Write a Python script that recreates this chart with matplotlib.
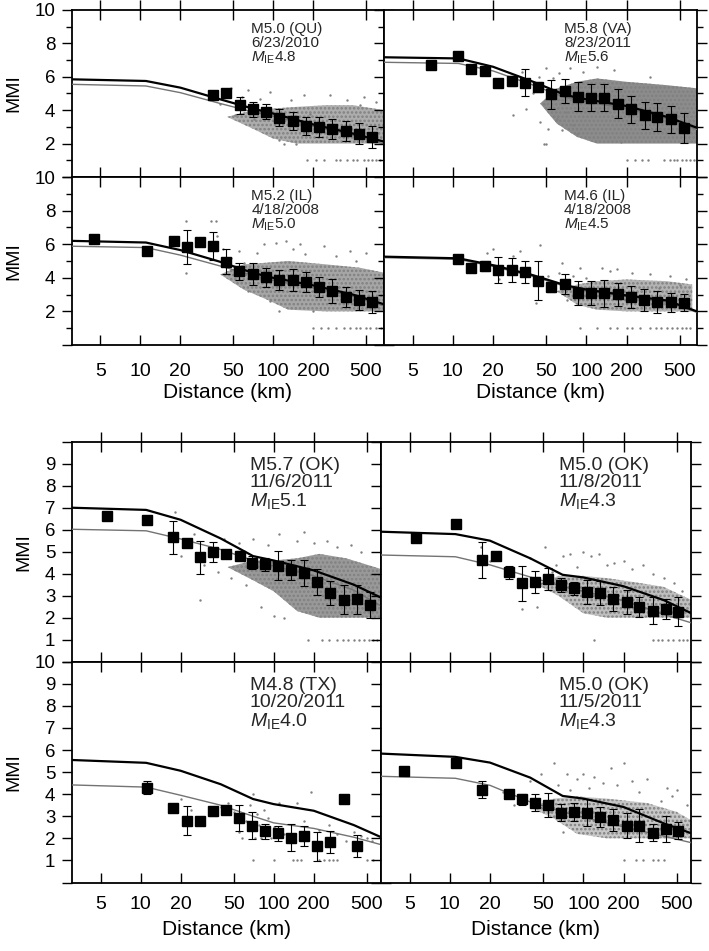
import numpy as np
import matplotlib.pyplot as plt
from matplotlib.ticker import NullLocator

plt.rcParams['font.family'] = ['Liberation Sans', 'DejaVu Sans']
plt.rcParams['mathtext.fontset'] = 'custom'
plt.rcParams['mathtext.rm'] = 'Liberation Sans'
plt.rcParams['mathtext.it'] = 'Liberation Sans:italic'
plt.rcParams['hatch.linewidth'] = 1.2

# distances (km) where the two model curves are read
line_d = [3, 11, 20, 40, 70, 100, 200, 400, 700]
xtick_vals = [5, 10, 20, 50, 100, 200, 500]

# ---- M5.0 (QU) 6/23/2010 ----
qu_label = 'M5.0 (QU)\n6/23/2010\n$M_{\\mathrm{IE}}$4.8'
qu_d = [35, 44, 56, 70, 88, 111, 140, 176, 222, 280, 352, 443, 558]
qu_m = [4.9, 5.05, 4.3, 4.05, 3.9, 3.55, 3.35, 3.05, 3.0, 2.9, 2.75, 2.6, 2.4]
qu_e = [0.15, 0.15, 0.5, 0.45, 0.45, 0.5, 0.55, 0.55, 0.6, 0.6, 0.6, 0.65, 0.65]
qu_black = [5.85, 5.75, 5.35, 4.65, 4.1, 3.8, 3.15, 2.6, 2.1]
qu_gray = [5.55, 5.45, 5.05, 4.4, 3.9, 3.65, 3.05, 2.5, 1.95]
qu_band_d = [45, 70, 100, 150, 250, 400, 690]
qu_band_lo = [3.6, 2.9, 2.3, 2.0, 2.0, 2.0, 2.0]
qu_band_hi = [3.6, 4.0, 4.1, 4.2, 4.3, 4.3, 4.0]
qu_pts_d = [40, 48, 52, 58, 65, 72, 80, 95, 110, 120, 137, 150, 170, 190, 270, 360, 450, 480, 600]
qu_pts_m = [4.4, 5.3, 3.7, 4.8, 5.2, 3.5, 4.7, 5.1, 2.2, 2.0, 4.6, 2.0, 4.9, 3.8, 4.9, 4.6, 4.3, 4.8, 4.5]
qu_ones = [180, 210, 240, 300, 320, 360, 400, 430, 480, 520, 560, 600, 640]

# ---- M5.8 (VA) 8/23/2011 ----
va_label = 'M5.8 (VA)\n8/23/2011\n$M_{\\mathrm{IE}}$5.6'
va_d = [6.9, 10.9, 13.7, 17.3, 21.7, 27.5, 34.5, 43.5, 54.7, 69, 87, 108, 136, 172, 217, 273, 340, 429, 540]
va_m = [6.71, 7.25, 6.45, 6.37, 5.61, 5.75, 5.65, 5.37, 4.95, 5.15, 4.81, 4.75, 4.75, 4.39, 4.06, 3.70, 3.58, 3.46, 2.92]
va_e = [0.1, 0.1, 0.1, 0.15, 0.1, 0.3, 0.8, 0.3, 0.85, 0.7, 0.85, 0.8, 0.8, 0.85, 0.8, 0.8, 0.85, 0.8, 0.9]
va_black = [7.17, 7.1, 6.6, 5.7, 4.9, 4.65, 4.25, 3.6, 2.9]
va_gray = [6.87, 6.8, 6.35, 5.5, 4.75, 4.5, 4.1, 3.5, 2.8]
va_band_d = [45, 60, 85, 120, 200, 400, 690]
va_band_lo = [4.4, 3.2, 2.4, 2.0, 2.0, 2.0, 2.0]
va_band_hi = [4.4, 5.3, 5.7, 5.9, 5.7, 5.5, 5.3]
va_pts_d = [28, 33, 35, 40, 44, 45, 48, 50, 52, 56, 60, 62, 66, 70, 75, 80, 85, 95, 120, 160, 180, 300, 48, 50]
va_pts_m = [3.7, 6.3, 4.1, 5.0, 6.0, 3.3, 4.4, 6.5, 2.9, 5.9, 3.5, 6.2, 2.8, 3.9, 6.5, 3.1, 2.6, 6.3, 6.6, 6.4, 2.1, 6.0, 2.0, 2.0]
va_ones = [200, 230, 260, 290, 380, 420, 450, 480, 520, 560, 600, 640]

# ---- M5.2 (IL) 4/18/2008 ----
il52_label = 'M5.2 (IL)\n4/18/2008\n$M_{\\mathrm{IE}}$5.0'
il52_d = [4.5, 11.2, 17.8, 22.5, 28.3, 35.3, 44.4, 55.7, 70, 88, 111, 140, 176, 222, 280, 352, 443, 558]
il52_m = [6.31, 5.60, 6.19, 5.82, 6.15, 5.89, 4.96, 4.38, 4.24, 4.03, 3.85, 3.87, 3.75, 3.47, 3.20, 2.84, 2.66, 2.58]
il52_e = [0.1, 0.1, 0.2, 1.0, 0.15, 0.85, 0.75, 0.5, 0.65, 0.55, 0.6, 0.65, 0.6, 0.6, 0.7, 0.6, 0.6, 0.65]
il52_black = [6.2, 6.1, 5.65, 4.95, 4.3, 4.0, 3.55, 3.0, 2.4]
il52_gray = [5.88, 5.8, 5.35, 4.7, 4.15, 3.85, 3.4, 2.9, 2.3]
il52_band_d = [40, 60, 90, 130, 250, 450, 690]
il52_band_lo = [4.2, 3.3, 2.7, 2.1, 2.0, 2.0, 2.0]
il52_band_hi = [4.2, 4.8, 4.9, 5.0, 4.8, 4.6, 4.3]
il52_pts_d = [22, 34, 37, 38, 42, 48, 55, 60, 65, 75, 85, 95, 105, 110, 125, 140, 160, 175, 200, 240, 300, 380, 420, 500, 22]
il52_pts_m = [4.3, 7.4, 7.4, 6.5, 5.7, 5.2, 5.6, 4.9, 3.2, 5.5, 6.0, 2.6, 6.1, 2.0, 6.2, 5.7, 6.0, 5.4, 2.0, 5.9, 5.3, 5.6, 5.0, 5.5, 7.4]
il52_ones = [200, 230, 260, 300, 340, 380, 420, 450, 500, 540, 600, 650]

# ---- M4.6 (IL) 4/18/2008 ----
il46_label = 'M4.6 (IL)\n4/18/2008\n$M_{\\mathrm{IE}}$4.5'
il46_d = [10.9, 13.6, 17.3, 21.7, 27.5, 34.5, 43.5, 54.7, 69, 87, 108, 136, 172, 216, 272, 340, 429, 540]
il46_m = [5.10, 4.60, 4.72, 4.46, 4.46, 4.36, 3.83, 3.47, 3.61, 3.11, 3.11, 3.08, 3.02, 2.88, 2.68, 2.58, 2.54, 2.52]
il46_e = [0.1, 0.1, 0.3, 0.75, 0.7, 0.65, 1.15, 0.3, 0.6, 0.7, 0.7, 0.8, 0.7, 0.65, 0.65, 0.65, 0.55, 0.5]
il46_black = [5.26, 5.16, 4.75, 4.15, 3.55, 3.3, 2.95, 2.65, 1.95]
il46_gray = [5.2, 5.1, 4.68, 4.08, 3.48, 3.22, 2.88, 2.55, 1.9]
il46_band_d = [60, 85, 120, 200, 400, 620]
il46_band_lo = [3.2, 2.4, 2.1, 2.0, 2.0, 2.0]
il46_band_hi = [3.2, 3.6, 3.8, 3.9, 3.8, 3.6]
il46_pts_d = [18, 20, 22, 28, 32, 38, 42, 45, 52, 58, 62, 66, 72, 80, 90, 100, 130, 150, 170, 220, 300, 350, 420, 500, 560]
il46_pts_m = [5.5, 5.7, 3.9, 5.3, 5.6, 4.2, 2.5, 5.95, 4.1, 3.4, 4.3, 4.9, 2.7, 4.1, 4.6, 4.0, 4.6, 4.4, 4.5, 4.3, 4.2, 3.4, 4.1, 3.6, 3.9]
il46_ones = [90, 120, 150, 170, 200, 220, 250, 300, 330, 360, 400, 440, 480, 520, 560, 600]

# ---- M5.7 (OK) 11/6/2011 ----
ok57_label = 'M5.7 (OK)\n11/6/2011\n$M_{\\mathrm{IE}}$5.1'
ok57_d = [5.6, 11.1, 17.6, 22.2, 27.9, 34.8, 43.8, 55.5, 68.3, 86, 107, 134, 168, 212, 266, 336, 421, 527]
ok57_m = [6.62, 6.44, 5.65, 5.41, 4.75, 5.00, 4.90, 4.81, 4.50, 4.43, 4.36, 4.17, 4.02, 3.61, 3.11, 2.82, 2.84, 2.58]
ok57_e = [0.1, 0.1, 0.75, 0.1, 0.75, 0.45, 0.2, 0.2, 0.3, 0.3, 0.65, 0.45, 0.6, 0.6, 0.55, 0.65, 0.65, 0.6]
ok57_black = [7.0, 6.9, 6.45, 5.6, 4.8, 4.6, 4.15, 3.5, 2.8]
ok57_gray = [6.02, 5.95, 5.58, 5.1, 4.6, 4.35, 3.9, 3.25, 2.4]
ok57_band_d = [45, 70, 100, 150, 220, 350, 650]
ok57_band_lo = [4.3, 3.7, 3.2, 2.3, 2.0, 2.0, 2.0]
ok57_band_hi = [4.3, 4.6, 4.6, 4.7, 4.9, 4.7, 4.2]
ok57_pts_d = [18, 20, 22, 25, 28, 30, 33, 38, 42, 48, 55, 62, 70, 80, 90, 100, 110, 120, 150, 170, 200, 250, 300, 380, 450]
ok57_pts_m = [6.8, 4.8, 5.5, 5.8, 2.8, 4.4, 5.2, 4.1, 5.6, 3.8, 5.4, 3.5, 5.6, 2.5, 5.3, 2.1, 5.8, 2.0, 5.5, 5.9, 5.4, 5.5, 5.2, 5.3, 5.0]
ok57_ones = [180, 230, 260, 300, 330, 360, 400, 440, 480, 520, 560, 600]

# ---- M5.0 (OK) 11/8/2011 ----
ok8_label = 'M5.0 (OK)\n11/8/2011\n$M_{\\mathrm{IE}}$4.3'
ok8_d = [5.6, 11.2, 17.5, 22.1, 27.6, 34.8, 43.3, 54.5, 67.9, 85, 106, 133, 167, 211, 262, 331, 414, 515]
ok8_m = [5.61, 6.25, 4.62, 4.80, 4.06, 3.56, 3.61, 3.76, 3.49, 3.34, 3.18, 3.14, 2.84, 2.73, 2.47, 2.32, 2.38, 2.27]
ok8_e = [0.1, 0.1, 0.8, 0.1, 0.3, 0.8, 0.5, 0.5, 0.3, 0.3, 0.55, 0.55, 0.55, 0.55, 0.45, 0.6, 0.45, 0.65]
ok8_black = [5.91, 5.8, 5.5, 4.7, 3.95, 3.83, 3.43, 2.8, 2.1]
ok8_gray = [4.85, 4.77, 4.4, 3.85, 3.42, 3.2, 2.78, 2.15, 1.7]
ok8_band_d = [45, 65, 100, 150, 250, 400, 650]
ok8_band_lo = [3.5, 3.0, 2.2, 2.0, 2.0, 2.0, 2.0]
ok8_band_hi = [3.5, 3.9, 3.9, 3.8, 3.6, 3.4, 2.8]
ok8_pts_d = [17, 20, 28, 35, 40, 45, 52, 58, 62, 70, 80, 90, 100, 115, 130, 150, 170, 200, 230, 280, 330, 400, 480, 550]
ok8_pts_m = [5.2, 4.6, 4.0, 2.4, 4.7, 2.5, 5.2, 4.1, 4.4, 4.8, 4.9, 4.3, 5.0, 4.8, 4.9, 4.4, 4.5, 4.6, 4.2, 4.4, 4.0, 3.8, 3.6, 3.2]
ok8_ones = [120, 330, 360, 390, 430, 470, 520, 560, 600]

# ---- M4.8 (TX) 10/20/2011 ----
tx_label = 'M4.8 (TX)\n10/20/2011\n$M_{\\mathrm{IE}}$4.0'
tx_d = [11.1, 17.6, 22.2, 27.9, 34.9, 44.0, 54.9, 68.6, 86.2, 107, 134, 169, 212, 267, 336, 421]
tx_m = [4.29, 3.38, 2.80, 2.80, 3.23, 3.28, 2.91, 2.58, 2.31, 2.22, 2.03, 2.12, 1.64, 1.82, 3.78, 1.67]
tx_e = [0.3, 0.1, 0.67, 0.1, 0.2, 0.1, 0.6, 0.6, 0.35, 0.35, 0.6, 0.45, 0.65, 0.5, 0.1, 0.5]
tx_black = [5.55, 5.42, 5.06, 4.45, 3.78, 3.55, 3.25, 2.6, 1.95]
tx_gray = [4.42, 4.32, 3.95, 3.5, 3.0, 2.7, 2.45, 2.05, 1.65]
tx_pts_d = [20, 24, 30, 35, 40, 45, 50, 55, 58, 62, 66, 70, 72, 75, 78, 80, 85, 90, 95, 100, 110, 120, 130, 150, 170, 190, 220, 260, 300, 350, 400, 450, 500, 550]
tx_pts_m = [3.8, 3.3, 2.9, 3.1, 3.4, 3.6, 3.2, 2.3, 2.0, 2.8, 3.5, 4.0, 2.0, 3.1, 2.6, 2.0, 3.3, 2.9, 2.0, 2.5, 3.6, 2.2, 2.0, 3.6, 2.8, 4.1, 2.4, 2.6, 2.2, 1.9, 2.3, 2.1, 2.0, 1.9]
tx_ones = [70, 100, 140, 150, 160, 220, 240, 260, 280, 300, 500, 560]

# ---- M5.0 (OK) 11/5/2011 ----
ok5_label = 'M5.0 (OK)\n11/5/2011\n$M_{\\mathrm{IE}}$4.3'
ok5_d = [4.5, 11.2, 17.5, 27.6, 34.8, 43.3, 54.5, 67.9, 85, 106, 133, 167, 211, 262, 331, 414, 515]
ok5_m = [5.03, 5.43, 4.21, 4.02, 3.77, 3.62, 3.50, 3.17, 3.20, 3.17, 2.98, 2.83, 2.58, 2.58, 2.26, 2.43, 2.35]
ok5_e = [0.1, 0.1, 0.37, 0.1, 0.25, 0.4, 0.55, 0.4, 0.4, 0.6, 0.45, 0.5, 0.55, 0.75, 0.4, 0.6, 0.4]
ok5_black = [5.84, 5.69, 5.43, 4.75, 3.92, 3.8, 3.42, 2.68, 2.15]
ok5_gray = [4.81, 4.72, 4.4, 3.65, 3.2, 2.95, 2.52, 2.1, 1.75]
ok5_band_d = [40, 60, 90, 150, 300, 500, 650]
ok5_band_lo = [3.4, 2.9, 2.2, 2.0, 2.0, 2.0, 2.0]
ok5_band_hi = [3.4, 3.8, 3.9, 3.8, 3.6, 3.2, 2.8]
ok5_pts_d = [25, 30, 40, 48, 55, 60, 65, 70, 75, 80, 90, 100, 110, 120, 140, 160, 180, 200, 230, 260, 300, 380, 420, 460, 500, 600]
ok5_pts_m = [4.1, 3.5, 4.6, 4.9, 3.2, 5.4, 4.4, 2.3, 4.9, 4.2, 4.7, 4.9, 4.3, 4.8, 4.5, 5.2, 4.4, 5.4, 4.6, 4.1, 4.7, 3.7, 4.3, 3.9, 4.2, 3.5]
ok5_ones = [200, 250, 280, 330, 360, 400, 640]


def draw_panel(ax, label, d, m, e, black, gray, band, pts_d, pts_m, ones, fs, shade):
    if band is not None:
        ax.fill_between(band[0], band[1], band[2], facecolor=shade, edgecolor='0.5',
                        hatch='....', lw=0, zorder=1)
    ax.scatter(pts_d, pts_m, s=3, color='0.5', lw=0, zorder=2)
    ax.scatter(ones, [1] * len(ones), s=3, color='0.5', lw=0, zorder=2)
    ax.plot(line_d, gray, color='0.45', lw=1.0, zorder=3)
    ax.plot(line_d, black, color='black', lw=1.6, zorder=3)
    ax.errorbar(d, m, yerr=e, fmt='s', color='black', ms=6.5, capsize=3,
                elinewidth=0.8, capthick=0.8, zorder=5)
    ax.text(0.575, 0.93, label, transform=ax.transAxes, ha='left', va='top',
            fontsize=fs, linespacing=1.0, color='0.15')


def style_axes(ax, xmax, top_row, left_col, group):
    ax.set_xscale('log')
    ax.set_xlim(3.05, xmax)
    ax.set_ylim(0, 10)
    for s in ax.spines.values():
        s.set_linewidth(1.3)
    ax.set_xticks(xtick_vals)
    ax.set_xticklabels([str(v) for v in xtick_vals])
    ax.xaxis.set_minor_locator(NullLocator())
    if group == 'top':
        ax.set_yticks([0, 2, 4, 6, 8, 10])
        ax.set_yticklabels(['', '2', '4', '6', '8', '10'])
        ax.set_yticks([1, 3, 5, 7, 9], minor=True)
    else:
        ax.set_yticks(range(11))
        labs = [str(v) for v in range(11)]
        labs[0] = ''
        if top_row:
            labs[10] = ''
        ax.set_yticklabels(labs)
    xdir = 'inout' if top_row else 'in'
    xlen = 14 if top_row else 7
    pad = 13 if group == 'top' else 10
    ax.tick_params(axis='x', which='major', direction=xdir, length=xlen, width=1.0,
                   top=True, bottom=True, labelbottom=not top_row,
                   labelsize=14, pad=pad)
    ax.tick_params(axis='y', which='major', direction='out', length=7, width=1.0,
                   left=True, right=True, labelleft=left_col, labelsize=13.5, pad=5)
    ax.tick_params(axis='y', which='minor', direction='out', length=4, width=1.0,
                   left=True, right=True)
    if left_col:
        ax.set_ylabel('MMI', fontsize=14, labelpad=9)
    if not top_row:
        ax.set_xlabel('Distance (km)', fontsize=15, labelpad=2 if group == 'top' else 5)


W, H = 709, 951
fig = plt.figure(figsize=(W / 100, H / 100), dpi=100)


def add_ax(x0, x1, y0, y1):
    return fig.add_axes([x0 / W, 1 - y1 / H, (x1 - x0) / W, (y1 - y0) / H])


# top group
ax_qu = add_ax(72, 384, 10, 177)
ax_va = add_ax(384, 697, 10, 177)
ax_il52 = add_ax(72, 384, 177, 345)
ax_il46 = add_ax(384, 697, 177, 345)
# bottom group
ax_ok57 = add_ax(72, 381, 441.7, 661.7)
ax_ok8 = add_ax(381, 690.5, 441.7, 661.7)
ax_tx = add_ax(72, 381, 661.7, 882.5)
ax_ok5 = add_ax(381, 690.5, 661.7, 882.5)

draw_panel(ax_qu, qu_label, qu_d, qu_m, qu_e, qu_black, qu_gray,
           (qu_band_d, qu_band_lo, qu_band_hi), qu_pts_d, qu_pts_m, qu_ones, 11, '0.68')
draw_panel(ax_va, va_label, va_d, va_m, va_e, va_black, va_gray,
           (va_band_d, va_band_lo, va_band_hi), va_pts_d, va_pts_m, va_ones, 11, '0.55')
draw_panel(ax_il52, il52_label, il52_d, il52_m, il52_e, il52_black, il52_gray,
           (il52_band_d, il52_band_lo, il52_band_hi), il52_pts_d, il52_pts_m, il52_ones, 11, '0.65')
draw_panel(ax_il46, il46_label, il46_d, il46_m, il46_e, il46_black, il46_gray,
           (il46_band_d, il46_band_lo, il46_band_hi), il46_pts_d, il46_pts_m, il46_ones, 11, '0.7')
draw_panel(ax_ok57, ok57_label, ok57_d, ok57_m, ok57_e, ok57_black, ok57_gray,
           (ok57_band_d, ok57_band_lo, ok57_band_hi), ok57_pts_d, ok57_pts_m, ok57_ones, 14, '0.6')
draw_panel(ax_ok8, ok8_label, ok8_d, ok8_m, ok8_e, ok8_black, ok8_gray,
           (ok8_band_d, ok8_band_lo, ok8_band_hi), ok8_pts_d, ok8_pts_m, ok8_ones, 14, '0.75')
draw_panel(ax_tx, tx_label, tx_d, tx_m, tx_e, tx_black, tx_gray,
           None, tx_pts_d, tx_pts_m, tx_ones, 14, None)
draw_panel(ax_ok5, ok5_label, ok5_d, ok5_m, ok5_e, ok5_black, ok5_gray,
           (ok5_band_d, ok5_band_lo, ok5_band_hi), ok5_pts_d, ok5_pts_m, ok5_ones, 14, '0.78')

style_axes(ax_qu, 685, True, True, 'top')
style_axes(ax_va, 673, True, False, 'top')
style_axes(ax_il52, 685, False, True, 'top')
style_axes(ax_il46, 673, False, False, 'top')
style_axes(ax_ok57, 640, True, True, 'bottom')
style_axes(ax_ok8, 635, True, False, 'bottom')
style_axes(ax_tx, 640, False, True, 'bottom')
style_axes(ax_ok5, 635, False, False, 'bottom')

fig.savefig('out.png', dpi=100)
